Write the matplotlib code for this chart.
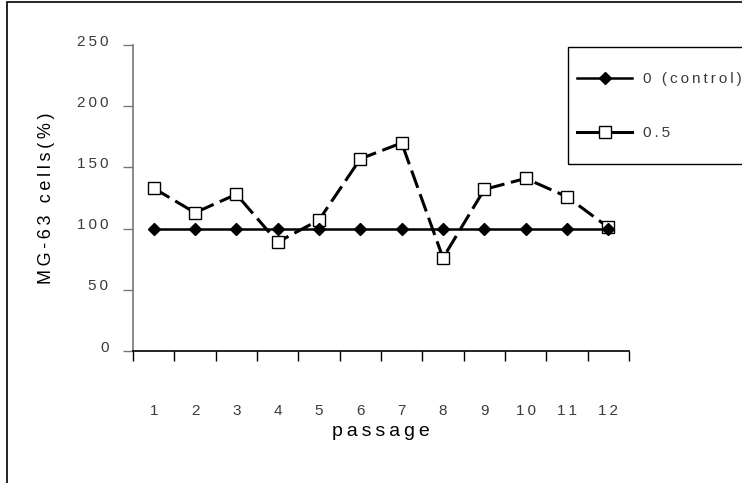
import matplotlib
matplotlib.use("Agg")
import matplotlib.pyplot as plt
import matplotlib.transforms as mtransforms
from matplotlib.patches import Rectangle

# values
passages = [1, 2, 3, 4, 5, 6, 7, 8, 9, 10, 11, 12]
control = [100, 100, 100, 100, 100, 100, 100, 100, 100, 100, 100, 100]
dose_05 = [133, 113, 128, 89, 107, 157, 170, 76, 132, 141, 126, 101]
y_ticks = [0, 50, 100, 150, 200, 250]
series_labels = ["0 (control)", "0.5"]

TICK_GREY = "#3a3a3a"
plt.rcParams["font.family"] = ["Liberation Sans", "DejaVu Sans"]


def spaced(s):
    # the original text is letter-spaced; thin spaces get close to that
    return "\u2009".join(s)


fig = plt.figure(figsize=(7.42, 4.83), dpi=100, facecolor="white")
ax = fig.add_axes([133 / 742, 1 - 351 / 483, 496 / 742, 306 / 483])

ax.plot(passages, dose_05, color="black", lw=2.2, linestyle=(0, (6, 2.2)),
        marker="s", ms=8.5, mfc="white", mec="black", mew=1.0,
        label=spaced(series_labels[1]), zorder=3)
ax.plot(passages, control, color="black", lw=1.8, marker="D", ms=6.5,
        mfc="black", mec="black", label=spaced(series_labels[0]), zorder=4)

ax.set_xlim(0.5, 12.5)
ax.set_ylim(0, 250)

# category boundaries carry the tick marks, centres carry the labels
ax.set_xticks([p - 0.5 for p in passages] + [passages[-1] + 0.5])
ax.set_xticklabels([])
ax.set_xticks(passages, [spaced(str(p)) for p in passages], minor=True)
ax.tick_params(axis="x", which="major", direction="out", length=7.2, width=1, color="black")
ax.tick_params(axis="x", which="minor", length=0, pad=38.5, labelsize=11, labelcolor=TICK_GREY)

ax.set_yticks(y_ticks, [spaced(str(v)) for v in y_ticks])
ax.tick_params(axis="y", direction="out", length=7.2, width=1, color="#777777",
               pad=10.5, labelsize=11, labelcolor=TICK_GREY)
lift = mtransforms.ScaledTranslation(0, 0.05, fig.dpi_scale_trans)
for lab in ax.get_yticklabels():
    lab.set_transform(lab.get_transform() + lift)

for side in ("top", "right"):
    ax.spines[side].set_visible(False)
ax.spines["left"].set_color("#777777")
ax.spines["left"].set_linewidth(1.2)
ax.spines["bottom"].set_color("black")
ax.spines["bottom"].set_linewidth(1.2)

ax.set_xlabel(spaced("passage"), fontsize=14, color="black", labelpad=3)
ax.set_ylabel(spaced("MG-63 cells(%)"), fontsize=13, color="black")
ax.yaxis.set_label_coords(-0.158, 0.5)

handles, labels = ax.get_legend_handles_labels()
leg = fig.legend(handles[::-1], labels[::-1], loc="center left",
                 bbox_to_anchor=(577 / 742, 1 - 106 / 483), bbox_transform=fig.transFigure,
                 frameon=False, borderpad=0, borderaxespad=0, fontsize=11,
                 labelcolor=TICK_GREY, handlelength=3.6, handletextpad=0.7, labelspacing=2.6)
for line in leg.get_lines():
    line.set_linestyle("-")
fig.add_artist(Rectangle((568 / 742, 1 - 164 / 483), 0.3, 117 / 483, transform=fig.transFigure,
                         facecolor="none", edgecolor="black", lw=1.0))

# outer frame around the whole figure
fig.add_artist(Rectangle((7 / 742, -0.1), 1.2, 1.1 - 2 / 483, transform=fig.transFigure,
                         facecolor="none", edgecolor="black", lw=1.2))

fig.savefig("out.png", dpi=100, facecolor="white")
